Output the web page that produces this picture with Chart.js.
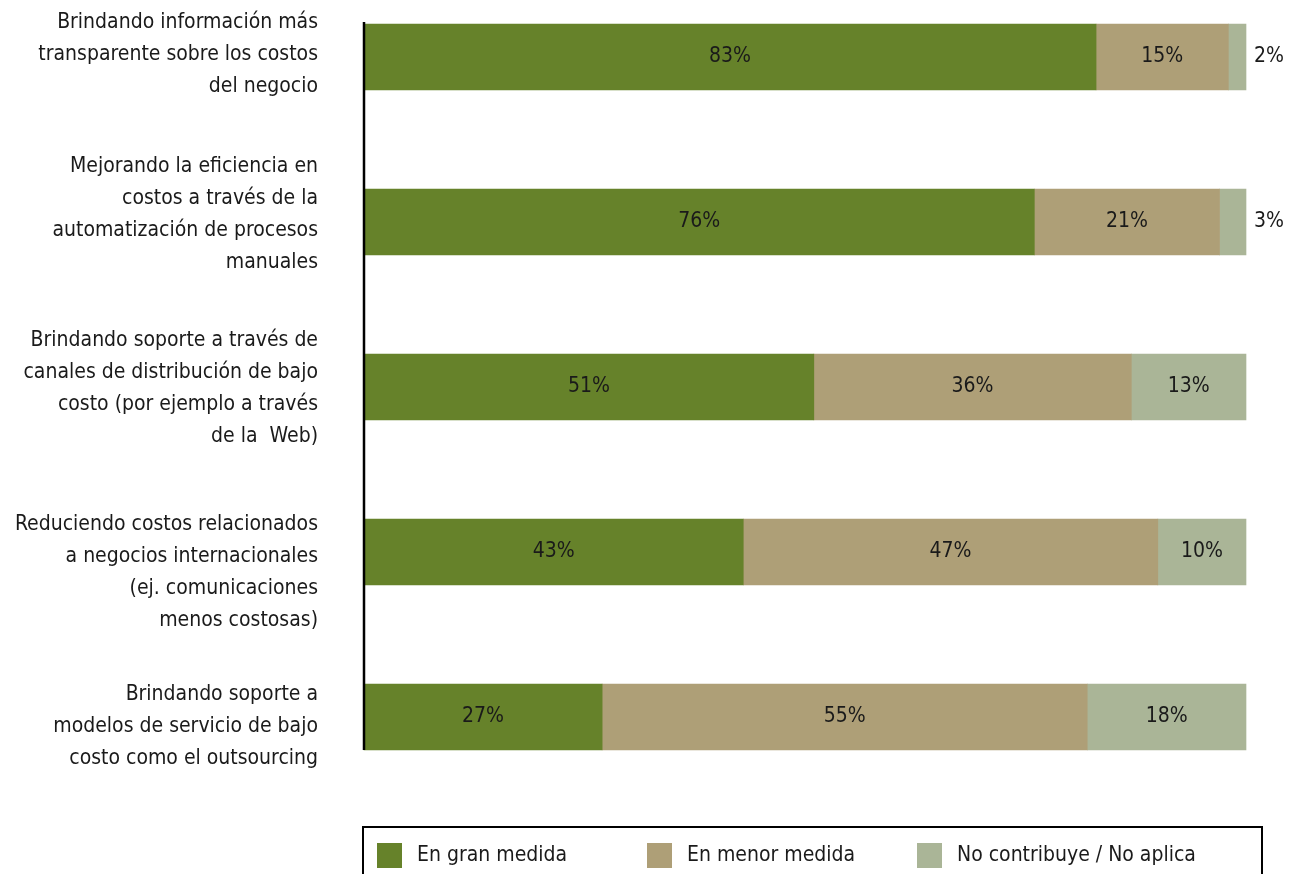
<!DOCTYPE html>
<html>
<head>
<meta charset="utf-8">
<script src="https://cdn.jsdelivr.net/npm/chart.js@4.4.1/dist/chart.umd.min.js"></script>
<style>
  html, body { margin: 0; padding: 0; background: #fff; }
  #wrap { width: 1306px; height: 874px; }
</style>
</head>
<body>
<div id="wrap"><canvas id="grafico" width="1306" height="874"></canvas></div>
<script>
const categorias = [
  ['Brindando información más', 'transparente sobre los costos', 'del negocio'],
  ['Mejorando la eficiencia en', 'costos a través de la', 'automatización de procesos', 'manuales'],
  ['Brindando soporte a través de', 'canales de distribución de bajo', 'costo (por ejemplo a través', 'de la  Web)'],
  ['Reduciendo costos relacionados', 'a negocios internacionales', '(ej. comunicaciones', 'menos costosas)'],
  ['Brindando soporte a', 'modelos de servicio de bajo', 'costo como el outsourcing']
];
const enGranMedida = [83, 76, 51, 43, 27];
const enMenorMedida = [15, 21, 36, 47, 55];
const noContribuye = [2, 3, 13, 10, 18];
const series = ['En gran medida', 'En menor medida', 'No contribuye / No aplica'];
const colores = ['#66822a', '#ae9f77', '#aab597'];

const fuente = "'Liberation Sans Narrow', 'DejaVu Sans Condensed', sans-serif";
const grosorBarra = 66;
const altoLinea = 32;
// corrimiento vertical de cada rótulo respecto al centro de su barra
const corrimientoRotulo = [-2, -7, 2, 21, 10];

// rótulos de categoría, alineados a la derecha junto al eje
const rotulosCategoria = {
  id: 'rotulosCategoria',
  afterDraw(chart) {
    const { ctx, scales: { y } } = chart;
    ctx.save();
    ctx.font = '21px ' + fuente;
    ctx.fillStyle = '#1a1a1a';
    ctx.textAlign = 'right';
    ctx.textBaseline = 'middle';
    categorias.forEach((lineas, i) => {
      const centro = y.getPixelForValue(i) + corrimientoRotulo[i];
      const inicio = centro - (lineas.length - 1) * altoLinea / 2;
      lineas.forEach((linea, k) => {
        ctx.fillText(linea, chart.chartArea.left - 46, inicio + k * altoLinea);
      });
    });
    ctx.restore();
  }
};

// etiquetas de porcentaje: dentro del segmento, o a la derecha si es muy chico
const etiquetasValor = {
  id: 'etiquetasValor',
  afterDatasetsDraw(chart) {
    const ctx = chart.ctx;
    ctx.save();
    ctx.font = '21px ' + fuente;
    ctx.fillStyle = '#1a1a1a';
    ctx.textBaseline = 'middle';
    chart.data.datasets.forEach((ds, i) => {
      chart.getDatasetMeta(i).data.forEach((barra, j) => {
        const v = ds.data[j];
        const texto = v + '%';
        if (v < 5) {
          ctx.textAlign = 'left';
          ctx.fillText(texto, barra.x + 8, barra.y);
        } else {
          ctx.textAlign = 'center';
          ctx.fillText(texto, (barra.base + barra.x) / 2, barra.y);
        }
      });
    });
    ctx.restore();
  }
};

// eje vertical que cubre desde la primera hasta la última barra
const ejeVertical = {
  id: 'ejeVertical',
  afterDatasetsDraw(chart) {
    const { ctx, scales: { y } } = chart;
    const x = chart.chartArea.left;
    const arriba = y.getPixelForValue(0) - grosorBarra / 2 - 2;
    const abajo = y.getPixelForValue(categorias.length - 1) + grosorBarra / 2;
    ctx.save();
    ctx.strokeStyle = '#000';
    ctx.lineWidth = 2.5;
    ctx.beginPath();
    ctx.moveTo(x, arriba);
    ctx.lineTo(x, abajo);
    ctx.stroke();
    ctx.restore();
  }
};

// leyenda en un recuadro debajo del gráfico
const leyendaRecuadro = {
  id: 'leyendaRecuadro',
  afterDraw(chart) {
    const ctx = chart.ctx;
    ctx.save();
    ctx.strokeStyle = '#000';
    ctx.lineWidth = 2;
    ctx.strokeRect(363, 827, 899, 60);
    ctx.font = '21px ' + fuente;
    ctx.textBaseline = 'middle';
    ctx.textAlign = 'left';
    chart.data.datasets.forEach((ds, i) => {
      const x = 377 + i * 270;
      ctx.fillStyle = ds.backgroundColor;
      ctx.fillRect(x, 843, 25, 25);
      ctx.fillStyle = '#1a1a1a';
      ctx.fillText(ds.label, x + 40, 856);
    });
    ctx.restore();
  }
};

const ctx = document.getElementById('grafico');

new Chart(ctx, {
  type: 'bar',
  data: {
    labels: categorias,
    datasets: [enGranMedida, enMenorMedida, noContribuye].map((datos, i) => ({
      label: series[i],
      data: datos,
      backgroundColor: colores[i],
      borderWidth: 0,
      barThickness: grosorBarra,
      clip: false
    }))
  },
  options: {
    indexAxis: 'y',
    responsive: false,
    animation: false,
    layout: {
      padding: { top: 57, bottom: 157, right: 60, left: 0 }
    },
    plugins: {
      legend: { display: false },
      tooltip: { enabled: false }
    },
    scales: {
      x: {
        stacked: true,
        display: false,
        min: 0,
        max: 100
      },
      y: {
        stacked: true,
        offset: false,
        afterFit: (escala) => { escala.width = 364; },
        border: { display: false },
        grid: { display: false, drawTicks: false },
        ticks: { display: false }
      }
    }
  },
  plugins: [etiquetasValor, ejeVertical, rotulosCategoria, leyendaRecuadro]
});
</script>
</body>
</html>
